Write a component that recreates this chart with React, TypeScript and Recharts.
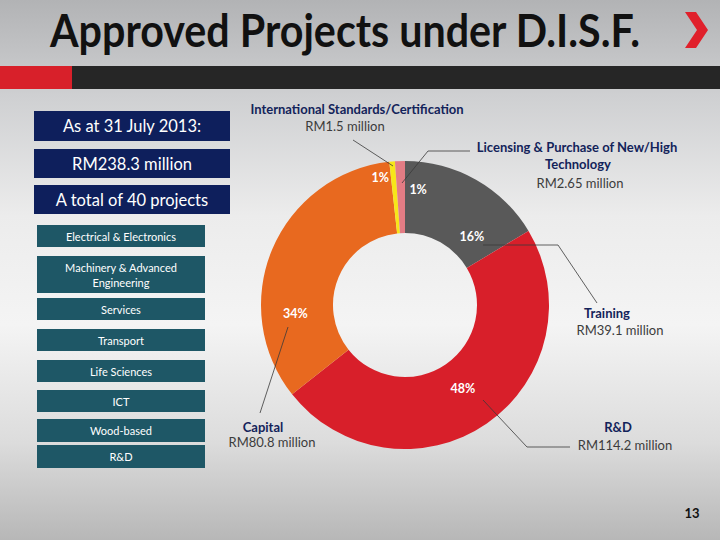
import React from "react";
import { PieChart, Pie, Cell } from "recharts";

// funding categories, clockwise from 12 o'clock
const categories = [
  "Training",
  "R&D",
  "Capital",
  "International Standards/Certification",
  "Licensing & Purchase of New/High Technology",
];
const amounts = [39.1, 114.2, 80.8, 1.5, 2.65];
const percentLabels = ["16%", "48%", "34%", "1%", "1%"];
const sliceColors = ["#595959", "#d81f2a", "#e8691f", "#f7e619", "#e37c84"];

const sectors = [
  "Electrical & Electronics",
  "Machinery & Advanced Engineering",
  "Services",
  "Transport",
  "Life Sciences",
  "ICT",
  "Wood-based",
  "R&D",
];

const summary = ["As at 31 July 2013:", "RM238.3 million", "A total of 40 projects"];

const data = categories.map((name, i) => ({ name, value: amounts[i], pct: percentLabels[i] }));

// hand placement of the % labels (angle in degrees, radius in px), like the slide
const labelAngle = [45.8, -55.4, -175.8, 101, 83.5];
const labelRadius = [96, 102, 110, 130, 116];

const font = "Lato, 'Open Sans', sans-serif";
const navy = "#13235a";
const grayText = "#3c3c3c";

const renderPct = (props: any) => {
  const { cx, cy, index } = props;
  const a = (labelAngle[index] * Math.PI) / 180;
  const r = labelRadius[index];
  return (
    <text
      x={cx + r * Math.cos(a)}
      y={cy - r * Math.sin(a)}
      fill="#fff"
      fontSize={12.5}
      fontWeight={700}
      fontFamily={font}
      textAnchor="middle"
      dominantBaseline="central"
    >
      {data[index].pct}
    </text>
  );
};

const navyBoxes = [
  { top: 111, h: 30 },
  { top: 149, h: 29 },
  { top: 185, h: 29 },
];
const tealBoxes = [
  { top: 225, h: 22 },
  { top: 256, h: 37 },
  { top: 298, h: 22 },
  { top: 329, h: 22 },
  { top: 360, h: 22 },
  { top: 390, h: 22 },
  { top: 419, h: 23 },
  { top: 445, h: 23 },
];

export default function App() {
  return (
    <div
      style={{
        position: "absolute",
        left: 0,
        top: 0,
        width: 720,
        height: 540,
        overflow: "hidden",
        fontFamily: font,
        background:
          "linear-gradient(180deg, #b2b3b5 0%, #cfd0d2 18%, #ececec 40%, #f4f4f4 60%, #dcdcdc 82%, #b7b7b7 100%)",
      }}
    >
      <div style={{ position: "absolute", left: 0, top: 66, width: 720, height: 23, background: "#262626" }} />
      <div style={{ position: "absolute", left: 0, top: 66, width: 72, height: 23, background: "#d8202a" }} />

      {navyBoxes.map((b, i) => (
        <div
          key={summary[i]}
          style={{
            position: "absolute",
            left: 34,
            top: b.top,
            width: 196,
            height: b.h,
            background: "#0e1f5c",
            color: "#fff",
            fontSize: 16.5,
            display: "flex",
            alignItems: "center",
            justifyContent: "center",
          }}
        >
          {summary[i]}
        </div>
      ))}

      {tealBoxes.map((b, i) => (
        <div
          key={sectors[i]}
          style={{
            position: "absolute",
            left: 37,
            top: b.top,
            width: 168,
            height: b.h,
            background: "#1e5766",
            color: "#fff",
            fontSize: 11,
            lineHeight: "15px",
            textAlign: "center",
            display: "flex",
            alignItems: "center",
            justifyContent: "center",
            padding: "0 18px",
            boxSizing: "border-box",
          }}
        >
          {sectors[i]}
        </div>
      ))}

      <div style={{ position: "absolute", left: 0, top: 0 }}>
        <PieChart width={720} height={540} margin={{ top: 0, right: 0, bottom: 0, left: 0 }}>
          <Pie
            data={data}
            dataKey="value"
            nameKey="name"
            cx={405}
            cy={305}
            innerRadius={72}
            outerRadius={144}
            startAngle={90}
            endAngle={-270}
            stroke="none"
            labelLine={false}
            label={renderPct}
            isAnimationActive={false}
          >
            {data.map((d, i) => (
              <Cell key={d.name} fill={sliceColors[i]} />
            ))}
          </Pie>
        </PieChart>
      </div>

      <svg
        width={720}
        height={540}
        style={{ position: "absolute", left: 0, top: 0, pointerEvents: "none" }}
        fontFamily={font}
      >
        <text x={50} y={47} fontSize={46} fontWeight={700} fill="#111" textLength={590} lengthAdjust="spacingAndGlyphs">
          Approved Projects under D.I.S.F.
        </text>
        <polygon points="685,12 696,12 708,30 696,48 685,48 697,30" fill="#e0202b" />

        <g stroke="#3a3a3a" strokeWidth={0.8} fill="none">
          <polyline points="353,140 393,166" />
          <polyline points="470,151 428,151 402,183" />
          <polyline points="483,245 558,245 597,303" />
          <polyline points="288,327 260,413" />
          <polyline points="483,400 527,447 570,447" />
        </g>

        <g textAnchor="middle" fontSize={13}>
          <text x={357} y={114} fill={navy} fontWeight={700}>{categories[3]}</text>
          <text x={345} y={131} fill={grayText}>RM{amounts[3]} million</text>

          <text x={577} y={152} fill={navy} fontWeight={700}>Licensing &amp; Purchase of New/High</text>
          <text x={578} y={169} fill={navy} fontWeight={700}>Technology</text>
          <text x={580} y={188} fill={grayText}>RM{amounts[4]} million</text>

          <text x={607} y={318} fill={navy} fontWeight={700}>{categories[0]}</text>
          <text x={620} y={335} fill={grayText}>RM{amounts[0]} million</text>

          <text x={263} y={432} fill={navy} fontWeight={700}>{categories[2]}</text>
          <text x={272} y={447} fill={grayText}>RM{amounts[2]} million</text>

          <text x={618} y={432} fill={navy} fontWeight={700}>{categories[1]}</text>
          <text x={625} y={450} fill={grayText}>RM{amounts[1]} million</text>
        </g>

        <text x={692} y={518} fontSize={13} fontWeight={700} fill="#111" textAnchor="middle">13</text>
      </svg>
    </div>
  );
}
